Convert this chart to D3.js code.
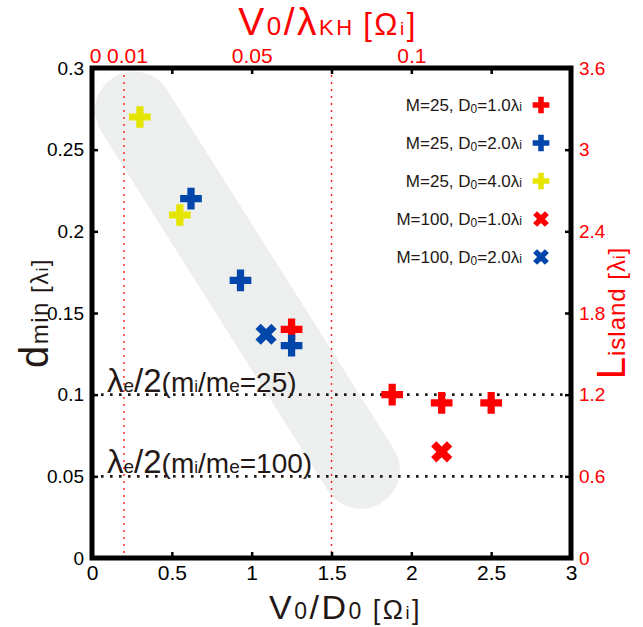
<!DOCTYPE html>
<html>
<head>
<meta charset="utf-8">
<script src="https://cdn.jsdelivr.net/npm/d3@7"></script>
<style>
  body { margin: 0; background: #fff; }
  text { font-family: "Liberation Sans", Arial, sans-serif; }
</style>
</head>
<body>
<svg id="chart" width="643" height="627"></svg>
<script>
// Axis ticks
const xTicks = [0, 0.5, 1, 1.5, 2, 2.5, 3];
const yTicks = [0, 0.05, 0.1, 0.15, 0.2, 0.25, 0.3];
const topTicks = [0, 0.01, 0.05, 0.1];
const rightTicks = [0, 0.6, 1.2, 1.8, 2.4, 3, 3.6];

// Reference lines
const guideX = [0.2, 1.5];
const guideY = [0.1, 0.05];
const guideLabels = ["25", "100"];

// Trend band end points (V0/D0, dmin)
const bandX = [0.263, 1.684];
const bandY = [0.274, 0.054];

// Series
const seriesM = [25, 25, 25, 100, 100];
const seriesD0 = ["1.0", "2.0", "4.0", "1.0", "2.0"];
const seriesColor = ["#ff0000", "#0046ab", "#e5e500", "#ff0000", "#0046ab"];
const seriesShape = ["plus", "plus", "plus", "x", "x"];
const seriesX = [
  [1.25, 1.88, 2.19, 2.5],
  [0.62, 0.93, 1.25],
  [0.3, 0.55],
  [2.19],
  [1.09]
];
const seriesY = [
  [0.14, 0.1, 0.095, 0.095],
  [0.22, 0.17, 0.13],
  [0.27, 0.21],
  [0.065],
  [0.137]
];

const svg = d3.select("#chart");
const L = 92, R = 571, T = 68, B = 558;
const ink = "#231815";

const x = d3.scaleLinear().domain([0, 3]).range([L, R]);
const y = d3.scaleLinear().domain([0, 0.3]).range([B, T]);
const xTop = d3.scaleLinear().domain([0, 0.15]).range([L, R]);
const yRight = d3.scaleLinear().domain([0, 3.6]).range([B, T]);

// grey trend band
svg.append("line")
  .attr("x1", x(bandX[0])).attr("y1", y(bandY[0]))
  .attr("x2", x(bandX[1])).attr("y2", y(bandY[1]))
  .attr("stroke", "#edefef").attr("stroke-width", 78)
  .attr("stroke-linecap", "round");

// vertical red dotted guides
svg.selectAll(".gx").data(guideX).enter().append("line")
  .attr("x1", d => x(d)).attr("x2", d => x(d))
  .attr("y1", T).attr("y2", B)
  .attr("stroke", "#ff1a1a").attr("stroke-width", 1.4)
  .attr("stroke-dasharray", "2,5");

// horizontal black dotted guides
svg.selectAll(".gy").data(guideY).enter().append("line")
  .attr("x1", L).attr("x2", R)
  .attr("y1", d => y(d)).attr("y2", d => y(d))
  .attr("stroke", ink).attr("stroke-width", 2.6)
  .attr("stroke-dasharray", "2.6,6.4");

// guide labels λe/2(mi/me=..)
guideY.forEach((v, i) => {
  const t = svg.append("text").attr("x", 107).attr("y", y(v) - 3)
    .attr("fill", ink);
  t.append("tspan").attr("font-size", 33).text("λ");
  t.append("tspan").attr("font-size", 19).text("e");
  t.append("tspan").attr("font-size", 33).text("/2");
  t.append("tspan").attr("font-size", 28).text("(m");
  t.append("tspan").attr("font-size", 17).text("i");
  t.append("tspan").attr("font-size", 28).text("/m");
  t.append("tspan").attr("font-size", 19).text("e");
  t.append("tspan").attr("font-size", 28).text("=" + guideLabels[i] + ")");
});

// markers
const crossPath = s => d3.symbol().type(d3.symbolCross).size(s)();
seriesX.forEach((xs, k) => {
  const g = svg.append("g");
  xs.forEach((xv, j) => {
    g.append("path")
      .attr("d", crossPath(seriesShape[k] === "plus" ? 262 : 280))
      .attr("fill", seriesColor[k])
      .attr("transform", `translate(${x(xv)},${y(seriesY[k][j])})` +
        (seriesShape[k] === "x" ? " rotate(45)" : ""));
  });
});

// legend
seriesM.forEach((m, k) => {
  const cy = 105 + k * 38;
  const t = svg.append("text").attr("x", 522).attr("y", cy + 6)
    .attr("text-anchor", "end").attr("fill", ink).attr("font-size", 17);
  t.append("tspan").text(`M=${m}, D`);
  t.append("tspan").attr("font-size", 12).attr("dy", 2).text("0");
  t.append("tspan").attr("dy", -2).text("=" + seriesD0[k]);
  t.append("tspan").text("λ");
  t.append("tspan").attr("font-size", 12).text("i");
  svg.append("path")
    .attr("d", crossPath(155))
    .attr("fill", seriesColor[k])
    .attr("transform", `translate(541,${cy})` + (seriesShape[k] === "x" ? " rotate(45)" : ""));
});

// axes
const tickLen = 6;
const axBottom = svg.append("g").attr("transform", `translate(0,${B})`)
  .call(d3.axisBottom(x).tickValues(xTicks).tickSize(-tickLen).tickPadding(7).tickFormat(d3.format("")));
axBottom.selectAll("text").attr("font-size", 21).attr("fill", "#000");

const axTop = svg.append("g").attr("transform", `translate(0,${T})`)
  .call(d3.axisTop(x).tickValues(xTicks.slice(1, -1)).tickSize(-tickLen).tickFormat(""));

const axTopLab = svg.append("g").attr("transform", `translate(0,${T})`)
  .call(d3.axisTop(xTop).tickValues(topTicks).tickSize(0).tickPadding(5).tickFormat(d3.format("")));
axTopLab.selectAll("text").attr("font-size", 21).attr("fill", "#ff0000")
  .attr("dx", d => d < 0.02 ? 3 : 0);
axTopLab.selectAll(".tick line").remove();

const axLeft = svg.append("g").attr("transform", `translate(${L},0)`)
  .call(d3.axisLeft(y).tickValues(yTicks).tickSize(-tickLen).tickPadding(8).tickFormat(d3.format("")));
axLeft.selectAll("text").attr("font-size", 19).attr("fill", "#000");

const axRight = svg.append("g").attr("transform", `translate(${R},0)`)
  .call(d3.axisRight(yRight).tickValues(rightTicks).tickSize(-tickLen).tickPadding(8).tickFormat(d3.format("")));
axRight.selectAll("text").attr("font-size", 19).attr("fill", "#ff0000");

[axBottom, axTop, axTopLab, axLeft, axRight].forEach(a => {
  a.selectAll(".tick line").attr("stroke", "#000").attr("stroke-width", 2.5);
  a.select(".domain").remove();
});

// frame
svg.append("rect").attr("x", L).attr("y", T).attr("width", R - L).attr("height", B - T)
  .attr("fill", "none").attr("stroke", "#000").attr("stroke-width", 5);

// axis titles
const xt = svg.append("text").attr("x", (L + R) / 2 + 14).attr("y", 619)
  .attr("text-anchor", "middle").attr("fill", ink).attr("letter-spacing", 2.5);
xt.append("tspan").attr("font-size", 34).text("V");
xt.append("tspan").attr("font-size", 23).text("0");
xt.append("tspan").attr("font-size", 34).text("/D");
xt.append("tspan").attr("font-size", 23).text("0 ");
xt.append("tspan").attr("font-size", 27).text("[Ω");
xt.append("tspan").attr("font-size", 18).text("i");
xt.append("tspan").attr("font-size", 27).text("]");

const tt = svg.append("text").attr("x", 328).attr("y", 35)
  .attr("text-anchor", "middle").attr("fill", "#ff0000").attr("letter-spacing", 2.5);
tt.append("tspan").attr("font-size", 39).text("V");
tt.append("tspan").attr("font-size", 26).text("0");
tt.append("tspan").attr("font-size", 39).text("/λ");
tt.append("tspan").attr("font-size", 22).text("KH ");
tt.append("tspan").attr("font-size", 31).text("[Ω");
tt.append("tspan").attr("font-size", 19).text("i");
tt.append("tspan").attr("font-size", 31).text("]");

const yt = svg.append("text").attr("transform", `translate(48,${(T + B) / 2}) rotate(-90)`)
  .attr("text-anchor", "middle").attr("fill", ink).attr("letter-spacing", 1.5);
yt.append("tspan").attr("font-size", 40).text("d");
yt.append("tspan").attr("font-size", 24).text("min ");
yt.append("tspan").attr("font-size", 24).text("[λ");
yt.append("tspan").attr("font-size", 16).text("i");
yt.append("tspan").attr("font-size", 24).text("]");

const rt = svg.append("text").attr("transform", `translate(625,${(T + B) / 2}) rotate(-90)`)
  .attr("text-anchor", "middle").attr("fill", "#ff0000").attr("letter-spacing", 1);
rt.append("tspan").attr("font-size", 40).text("L");
rt.append("tspan").attr("font-size", 24).text("island ");
rt.append("tspan").attr("font-size", 24).text("[λ");
rt.append("tspan").attr("font-size", 16).text("i");
rt.append("tspan").attr("font-size", 24).text("]");
</script>
</body>
</html>
